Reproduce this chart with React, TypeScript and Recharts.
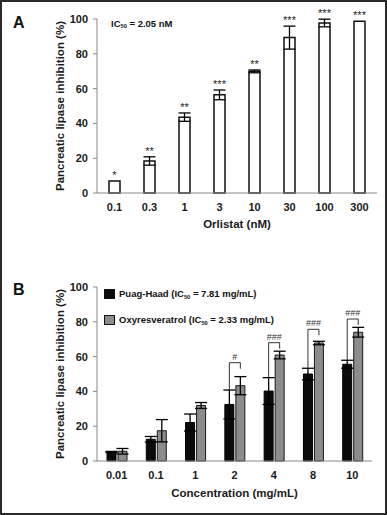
import React from "react";
import {
  BarChart,
  Bar,
  XAxis,
  YAxis,
  ErrorBar,
  LabelList,
  Legend,
} from "recharts";

const FONT = "'Liberation Sans', Arial, sans-serif";

// Panel A – orlistat
const A_CATS = ["0.1", "0.3", "1", "3", "10", "30", "100", "300"];
const A_MEAN = [6.9, 18.4, 43.6, 56.4, 69.9, 89.3, 97.7, 98.7];
const A_ERR = [0, 2.4, 2.4, 2.8, 0.8, 6.6, 2.2, 0];
const A_SIG = ["*", "**", "**", "***", "**", "***", "***", "***"];

// Panel B – Puag-Haad vs oxyresveratrol
const B_CATS = ["0.01", "0.1", "1", "2", "4", "8", "10"];
const PUAG_MEAN = [5.2, 12.5, 22.1, 32.5, 40.2, 50.0, 55.6];
const PUAG_ERR = [0.3, 1.6, 4.9, 8.3, 7.7, 3.3, 2.3];
const OXY_MEAN = [5.6, 17.4, 31.9, 43.3, 60.9, 67.8, 74.0];
const OXY_ERR = [1.6, 6.4, 1.7, 5.2, 2.2, 1.0, 2.8];
const B_SIG = ["", "", "", "#", "###", "###", "###"];
const B_BRACKET: (number | null)[] = [null, null, null, 56.5, 68, 75.7, 81.6];
const SERIES_NAMES = ["Puag-Haad", "Oxyresveratrol"];
const SERIES_IC50 = ["7.81", "2.33"];
const SERIES_COLORS = ["#0b0b0b", "#8c8c8c"];

const Y_TICKS = [0, 20, 40, 60, 80, 100];

const dataA = A_CATS.map((cat, i) => ({ cat, mean: A_MEAN[i], err: A_ERR[i] }));
const dataB = B_CATS.map((cat, i) => ({
  cat,
  puag: PUAG_MEAN[i],
  puagErr: PUAG_ERR[i],
  oxy: OXY_MEAN[i],
  oxyErr: OXY_ERR[i],
}));

const BAR_W = 9;
const BAR_GAP = 2;

const tickStyle = { fontSize: 11, fontWeight: 700, fill: "#1a1a1a", fontFamily: FONT };
const axisLabelStyle = { fontSize: 11.5, fontWeight: 700, fill: "#1a1a1a", fontFamily: FONT };

// asterisks sit just above the error bar cap
const StarLabel = (props: any) => {
  const { x, y, width, height, index } = props;
  const mean = A_MEAN[index];
  const ppu = height / mean;
  const top = y - A_ERR[index] * ppu;
  return (
    <text x={x + width / 2} y={top - 2} textAnchor="middle" fontSize={11} fill="#222" fontFamily={FONT}>
      {A_SIG[index]}
    </text>
  );
};

// bracket from the Puag-Haad cap over to the oxyresveratrol bar, with # marks
const BracketLabel = (props: any) => {
  const { x, y, width, height, index } = props;
  const topVal = B_BRACKET[index];
  if (topVal == null) return null;
  const ppu = height / PUAG_MEAN[index];
  const base = y + height;
  const lx = x + width / 2;
  const rx = x + width + BAR_GAP + BAR_W / 2;
  const ly = base - (PUAG_MEAN[index] + PUAG_ERR[index]) * ppu;
  const ty = base - topVal * ppu;
  return (
    <g>
      <path d={`M${lx},${ly}V${ty}H${rx}V${ty + 6}`} fill="none" stroke="#333" strokeWidth={1} />
      <text x={(lx + rx) / 2} y={ty - 3} textAnchor="middle" fontSize={9} fill="#333" fontFamily={FONT}>
        {B_SIG[index]}
      </text>
    </g>
  );
};

const PairLegend = () => (
  <div style={{ fontFamily: FONT, fontWeight: 700, fontSize: 9.5, color: "#111" }}>
    {SERIES_NAMES.map((name, i) => (
      <div key={name} style={{ display: "flex", alignItems: "center", height: 12, marginBottom: 14 }}>
        <span
          style={{
            display: "inline-block",
            width: 11,
            height: 10,
            boxSizing: "border-box",
            background: SERIES_COLORS[i],
            border: "1px solid #111",
            marginRight: 4,
          }}
        />
        <span>
          {name} (IC
          <sub style={{ fontSize: "0.6em", verticalAlign: "baseline", position: "relative", top: "0.3em" }}>50</sub> ={" "}
          {SERIES_IC50[i]} mg/mL)
        </span>
      </div>
    ))}
  </div>
);

const Ic50Note = () => (
  <div
    style={{
      position: "absolute",
      left: 111,
      top: 18.5,
      fontFamily: FONT,
      fontWeight: 700,
      fontSize: 9.5,
      lineHeight: 1,
      color: "#111",
    }}
  >
    IC<sub style={{ fontSize: "0.6em", verticalAlign: "baseline", position: "relative", top: "0.3em" }}>50</sub> = 2.05 nM
  </div>
);

const PanelLetter = ({ text, top }: { text: string; top: number }) => (
  <div
    style={{
      position: "absolute",
      left: 13,
      top,
      fontFamily: FONT,
      fontWeight: 700,
      fontSize: 16,
      lineHeight: 1,
      color: "#111",
    }}
  >
    {text}
  </div>
);

export default function App() {
  return (
    <div
      style={{
        position: "absolute",
        left: 0,
        top: 0,
        width: 387,
        height: 515,
        background: "#fff",
        fontFamily: FONT,
        overflow: "hidden",
      }}
    >
      {/* Panel A */}
      <div style={{ position: "absolute", left: 0, top: 0 }}>
        <BarChart width={387} height={240} data={dataA} margin={{ top: 19, right: 10, left: 42, bottom: 7 }}>
          <XAxis
            dataKey="cat"
            height={40}
            tickLine={false}
            tickSize={0}
            tickMargin={10}
            stroke="#888"
            tick={tickStyle}
            label={{ value: "Orlistat (nM)", position: "insideBottom", offset: 5, style: axisLabelStyle }}
          />
          <YAxis
            type="number"
            domain={[0, 100]}
            ticks={Y_TICKS}
            width={55}
            tickSize={4}
            tickMargin={5}
            stroke="#888"
            tick={tickStyle}
            label={{
              value: "Pancreatic lipase inhibition (%)",
              angle: -90,
              position: "insideLeft",
              offset: 18,
              style: { ...axisLabelStyle, textAnchor: "middle" },
            }}
          />
          <Bar dataKey="mean" barSize={11} fill="#fff" stroke="#111" strokeWidth={1.5} isAnimationActive={false}>
            <ErrorBar dataKey="err" width={6} stroke="#000" strokeWidth={1.3} direction="y" />
            <LabelList dataKey="mean" content={StarLabel} />
          </Bar>
        </BarChart>
        <PanelLetter text="A" top={15} />
        <Ic50Note />
      </div>

      {/* Panel B */}
      <div style={{ position: "absolute", left: 0, top: 268 }}>
        <BarChart
          width={387}
          height={245}
          data={dataB}
          barGap={BAR_GAP}
          margin={{ top: 19, right: 15, left: 42, bottom: 12 }}
        >
          <XAxis
            dataKey="cat"
            height={40}
            tickLine={false}
            tickSize={0}
            tickMargin={10}
            stroke="#888"
            tick={tickStyle}
            label={{ value: "Concentration (mg/mL)", position: "insideBottom", offset: 4, style: axisLabelStyle }}
          />
          <YAxis
            type="number"
            domain={[0, 100]}
            ticks={Y_TICKS}
            width={55}
            tickSize={4}
            tickMargin={5}
            stroke="#888"
            tick={tickStyle}
            label={{
              value: "Pancreatic lipase inhibition (%)",
              angle: -90,
              position: "insideLeft",
              offset: 18,
              style: { ...axisLabelStyle, textAnchor: "middle" },
            }}
          />
          <Legend
            layout="vertical"
            align="center"
            verticalAlign="middle"
            content={PairLegend}
            wrapperStyle={{ top: 19.5, left: 104, width: 260, height: 50 }}
          />
          <Bar
            dataKey="puag"
            name={SERIES_NAMES[0]}
            barSize={BAR_W}
            fill={SERIES_COLORS[0]}
            stroke="#000"
            strokeWidth={1}
            isAnimationActive={false}
          >
            <ErrorBar dataKey="puagErr" width={6} stroke="#000" strokeWidth={1.3} direction="y" />
            <LabelList dataKey="puag" content={BracketLabel} />
          </Bar>
          <Bar
            dataKey="oxy"
            name={SERIES_NAMES[1]}
            barSize={BAR_W}
            fill={SERIES_COLORS[1]}
            stroke="#1a1a1a"
            strokeWidth={1}
            isAnimationActive={false}
          >
            <ErrorBar dataKey="oxyErr" width={6} stroke="#000" strokeWidth={1.3} direction="y" />
          </Bar>
        </BarChart>
        <PanelLetter text="B" top={14} />
      </div>

      {/* outer frame */}
      <div
        style={{
          position: "absolute",
          inset: 0,
          border: "2px solid #2a2a2a",
          boxSizing: "border-box",
          pointerEvents: "none",
        }}
      />
    </div>
  );
}
